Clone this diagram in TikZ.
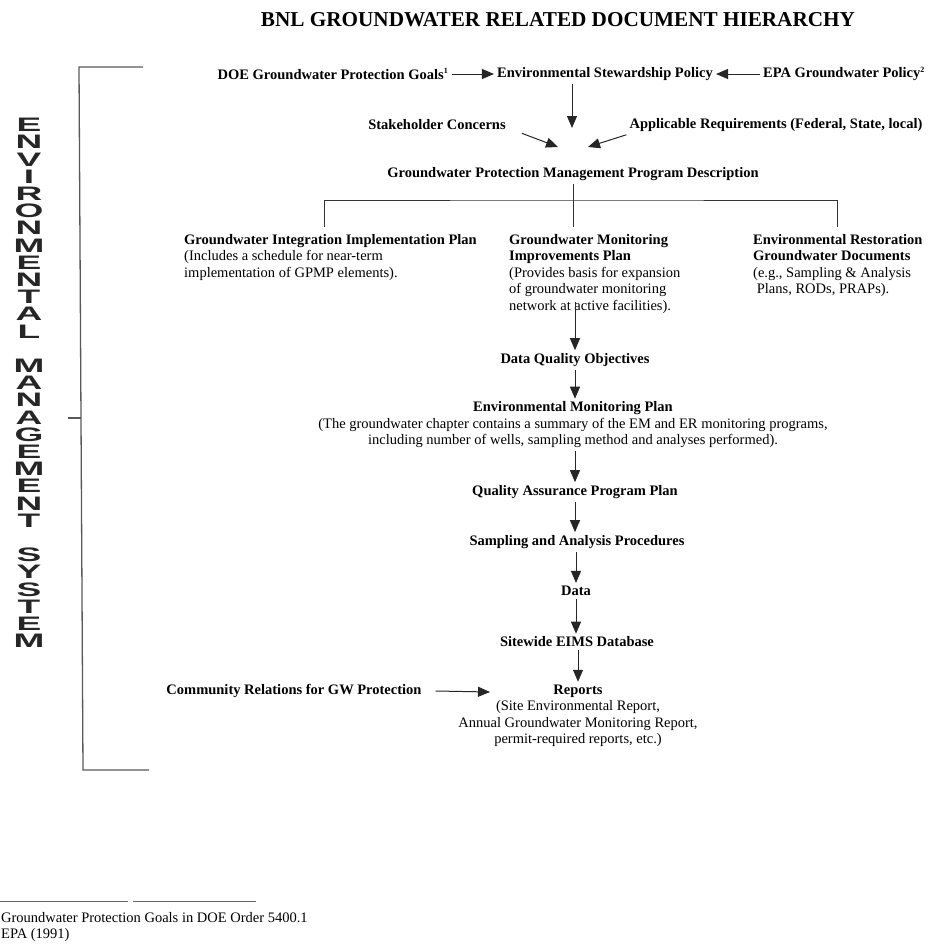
\documentclass[tikz,border=0pt]{standalone}
\usepackage{fontspec}
\setmainfont{Liberation Serif}
\setsansfont{Liberation Sans}
\usepackage{graphicx}
\usepackage{tikz}
\usetikzlibrary{arrows.meta,positioning}

\newcommand{\fnmark}[1]{\textsuperscript{\fontsize{8}{8}\selectfont #1}}

\begin{document}
\begin{tikzpicture}[
      x=1pt, y=-1pt,
      every node/.style={font=\fontsize{14.5}{16.5}\selectfont, inner sep=2pt},
      heading/.style={font=\fontsize{21.2}{24}\selectfont\bfseries},
      doc/.style={font=\fontsize{14.5}{16.5}\selectfont\bfseries, inner sep=3pt},
      block/.style={align=left, anchor=north west},
      note/.style={align=center, inner sep=3pt},
      stacked/.style={font=\fontsize{19.5}{17.2}\selectfont\sffamily\bfseries, text=black!85, inner sep=0pt},
      flow/.style={-{Triangle[length=12pt,width=10pt]}, line width=1pt, draw=black!85},
      branch/.style={line width=0.9pt, draw=black!80},
      frame/.style={line width=1.3pt, draw=black!65},
    ]
    \useasboundingbox (0,0) rectangle (934,946);

    % Title
    \node[heading] (title) at (558,20) {BNL GROUNDWATER RELATED DOCUMENT HIERARCHY};

    % Side bracket and stacked label
    \draw[frame] (143,67) -- (79,67) -- (83,770) -- (149,770);
    \draw[frame] (68,418) -- (81,418);
    \node[stacked] (ems) at (29,383)
      {\scalebox{1.9}[1]{\parbox{2em}{\centering
        E\\N\\V\\I\\R\\O\\N\\M\\E\\N\\T\\A\\L\\\phantom{M}\\
        M\\A\\N\\A\\G\\E\\M\\E\\N\\T\\\phantom{M}\\
        S\\Y\\S\\T\\E\\M}}};

    % Policy level
    \node[doc] (doe) at (333,74) {DOE Groundwater Protection Goals\fnmark{1}};
    \node[doc] (esp) at (605,74) {Environmental Stewardship Policy};
    \node[doc] (epa) at (844,74) {EPA Groundwater Policy\fnmark{2}};
    \draw[flow] (doe) -- (esp);
    \draw[flow] (epa) -- (esp);

    \node[doc] (stake) at (437,125) {Stakeholder Concerns};
    \node[doc] (appreq) at (776,125) {Applicable Requirements (Federal, State, local)};
    \coordinate (down) at (572,128);
    \coordinate (inl) at (558,147);
    \coordinate (inr) at (588,147);
    \draw[flow] (esp.south -| down) -- (down);
    \draw[flow] ([xshift=13pt]stake.south east) -- (inl);
    \draw[flow] (appreq.south west) -- (inr);

    % Program description and its three plans
    \node[doc] (gpmp) at (573,174) {Groundwater Protection Management Program Description};
    \node[block] (gip) at (182,232)
      {\textbf{Groundwater Integration Implementation Plan}\\(Includes a schedule for near-term\\implementation of GPMP elements).};
    \node[block] (gmip) at (507,232)
      {\textbf{Groundwater Monitoring}\\\textbf{Improvements Plan}\\(Provides basis for expansion\\of groundwater monitoring\\network at active facilities).};
    \node[block] (erg) at (751,232)
      {\textbf{Environmental Restoration}\\\textbf{Groundwater Documents}\\(e.g., Sampling \& Analysis\\\ Plans, RODs, PRAPs).};
    \coordinate (bar) at (573,200);
    \draw[branch, shorten >=5pt] (gpmp.south) -- (gpmp.south |- gmip.north);
    \draw[branch, shorten <=5pt, shorten >=5pt] ([xshift=-6pt]gip.north) |- (bar) -| (erg.north);

    % Monitoring chain
    \node[doc] (dqo) at (575,360) {Data Quality Objectives};
    \node[note] (emp) at (573,425)
      {\textbf{Environmental Monitoring Plan}\\(The groundwater chapter contains a summary of the EM and ER monitoring programs,\\including number of wells, sampling method and analyses performed).};
    \node[doc] (qapp) at (575,492) {Quality Assurance Program Plan};
    \node[doc] (sap) at (577,542) {Sampling and Analysis Procedures};
    \node[doc] (data) at (576,591) {Data};
    \node[doc] (eims) at (577,642) {Sitewide EIMS Database};
    \node[note] (rep) at (578,716)
      {\textbf{Reports}\\(Site Environmental Report,\\Annual Groundwater Monitoring Report,\\permit-required reports, etc.)};
    \draw[flow] ([yshift=14pt]dqo.north |- gmip.south) -- (dqo.north);
    \draw[flow] (dqo.south) -- (dqo.south |- emp.north);
    \draw[flow] (emp.south -| qapp.north) -- (qapp.north);
    \draw[flow] (qapp.south) -- (qapp.south |- sap.north);
    \draw[flow] (sap.south -| data.north) -- (data.north);
    \draw[flow] (data.south) -- (data.south |- eims.north);
    \draw[flow] (eims.south -| rep.north) -- (rep.north);

    \node[doc] (comrel) at (294,691) {Community Relations for GW Protection};
    \coordinate (comin) at (490,692);
    \draw[flow] ([xshift=11pt]comrel.east) -- (comin);

    % Footnotes
    \draw[black!60, line width=0.8pt] (0,901) -- (128,901) (133,901) -- (256,901);
    \node[anchor=west, inner sep=0pt] (fna) at (1,918) {Groundwater Protection Goals in DOE Order 5400.1};
    \node[anchor=west, inner sep=0pt] (fnb) at (1,935) {EPA (1991)};
  \end{tikzpicture}
\end{document}
